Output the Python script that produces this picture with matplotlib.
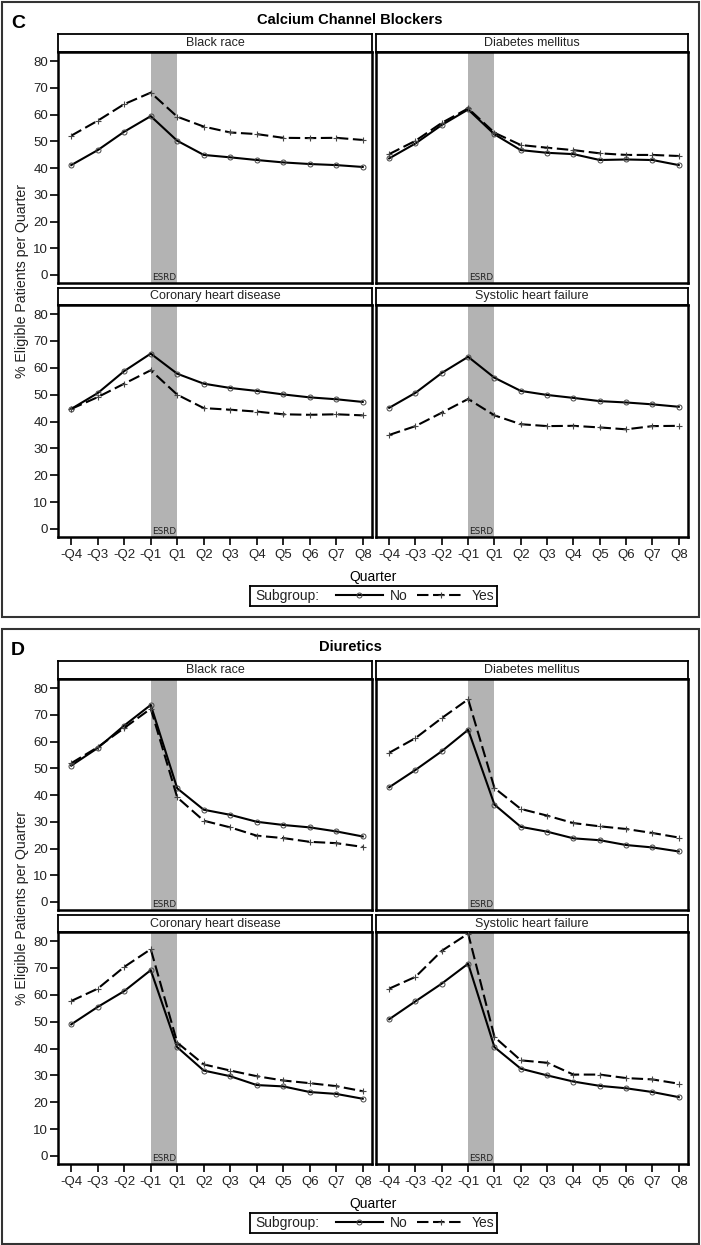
import matplotlib
matplotlib.use("Agg")
import matplotlib.pyplot as plt
from matplotlib.lines import Line2D
from matplotlib.patches import Rectangle

plt.rcParams['font.family'] = ['Liberation Sans', 'DejaVu Sans']

quarters = ['-Q4', '-Q3', '-Q2', '-Q1', 'Q1', 'Q2', 'Q3', 'Q4', 'Q5', 'Q6', 'Q7', 'Q8']
subgroups = ['Black race', 'Diabetes mellitus', 'Coronary heart disease', 'Systolic heart failure']

# Panel C: Calcium Channel Blockers
ccb_no = {
    'Black race':             [41.1, 46.7, 53.6, 59.4, 50.2, 44.9, 44.0, 43.0, 42.1, 41.5, 41.1, 40.4],
    'Diabetes mellitus':      [43.6, 49.2, 56.1, 61.9, 52.6, 46.7, 45.7, 45.2, 43.0, 43.2, 43.0, 41.1],
    'Coronary heart disease': [44.7, 50.6, 58.8, 65.3, 57.8, 54.1, 52.5, 51.4, 50.1, 49.0, 48.3, 47.3],
    'Systolic heart failure': [45.1, 50.7, 58.1, 64.1, 56.3, 51.4, 49.9, 48.8, 47.6, 47.1, 46.4, 45.5],
}
ccb_yes = {
    'Black race':             [52.1, 57.7, 63.9, 68.2, 59.2, 55.5, 53.3, 52.7, 51.3, 51.2, 51.3, 50.5],
    'Diabetes mellitus':      [45.2, 50.2, 56.9, 62.3, 53.2, 48.6, 47.6, 46.7, 45.5, 44.9, 44.9, 44.5],
    'Coronary heart disease': [44.7, 49.1, 54.1, 59.1, 50.0, 45.0, 44.4, 43.7, 42.7, 42.5, 42.7, 42.3],
    'Systolic heart failure': [35.0, 38.3, 43.3, 48.4, 42.3, 39.0, 38.3, 38.4, 37.8, 37.1, 38.3, 38.4],
}
# Panel D: Diuretics
diu_no = {
    'Black race':             [51.0, 57.6, 66.0, 73.7, 42.5, 34.5, 32.6, 30.0, 28.8, 27.9, 26.4, 24.5],
    'Diabetes mellitus':      [42.9, 49.4, 56.4, 64.4, 36.4, 28.1, 26.3, 23.8, 23.1, 21.3, 20.4, 18.9],
    'Coronary heart disease': [49.0, 55.5, 61.4, 69.2, 40.5, 31.8, 29.7, 26.4, 25.9, 23.8, 23.1, 21.3],
    'Systolic heart failure': [50.9, 57.6, 64.2, 71.6, 40.5, 32.5, 30.0, 27.7, 26.1, 25.2, 23.8, 21.9],
}
diu_yes = {
    'Black race':             [51.9, 57.9, 65.1, 72.3, 39.1, 30.4, 27.9, 24.8, 23.9, 22.5, 22.0, 20.6],
    'Diabetes mellitus':      [55.8, 61.3, 68.8, 75.8, 42.6, 34.8, 32.3, 29.5, 28.3, 27.3, 25.8, 24.1],
    'Coronary heart disease': [57.7, 62.3, 70.4, 77.0, 42.2, 34.1, 31.8, 29.7, 28.1, 27.1, 26.0, 24.1],
    'Systolic heart failure': [62.3, 66.7, 76.4, 82.8, 44.3, 35.6, 34.7, 30.3, 30.3, 29.0, 28.5, 26.9],
}
panels = [('C', 'Calcium Channel Blockers', ccb_no, ccb_yes),
          ('D', 'Diuretics', diu_no, diu_yes)]
yticks = [0, 10, 20, 30, 40, 50, 60, 70, 80]

W, H = 701, 1245
fig = plt.figure(figsize=(W / 100, H / 100), dpi=100)

def add_ax(x0, y0, x1, y1):
    return fig.add_axes([x0 / W, 1 - y1 / H, (x1 - x0) / W, (y1 - y0) / H])

BAND = '#b3b3b3'
TXT = '#222222'
cols = [(58, 372), (376, 688)]
rows = [((34, 52), (52, 283)), ((288, 305), (305, 537))]
xs = list(range(len(quarters)))

for pi, (letter, title, d_no, d_yes) in enumerate(panels):
    o = 627 * pi
    fig.patches.append(Rectangle((2 / W, 1 - (617 + o) / H), 697 / W, 615 / H,
                                 transform=fig.transFigure, fill=False,
                                 edgecolor='#333333', lw=1.5))
    fig.text(11 / W, 1 - (23 + o) / H, letter, fontsize=14, fontweight='bold',
             va='center', ha='left')
    fig.text(350 / W, 1 - (20 + o) / H, title, fontsize=10.6, fontweight='bold',
             va='center', ha='center')
    for k, sg in enumerate(subgroups):
        r, c = divmod(k, 2)
        (sy0, sy1), (py0, py1) = rows[r]
        x0, x1 = cols[c]
        sax = add_ax(x0, sy0 + o, x1, sy1 + o)
        sax.set_xticks([]); sax.set_yticks([])
        for s in sax.spines.values():
            s.set_linewidth(1.3)
        sax.text(0.5, 0.5, sg, ha='center', va='center', fontsize=9,
                 color=TXT, transform=sax.transAxes)
        ax = add_ax(x0, py0 + o, x1, py1 + o)
        for s in ax.spines.values():
            s.set_linewidth(1.8)
        ax.axvspan(3, 4, color=BAND, lw=0, zorder=0)
        ax.text(3.5, -1.1, 'ESRD', ha='center', va='center', fontsize=6.4,
                family='DejaVu Sans', color=TXT, zorder=1)
        ax.plot(xs, d_no[sg], color='black', lw=1.5, marker='o', ms=3.6,
                mfc='none', mec='#444444', mew=0.7, zorder=3)
        ax.plot(xs, d_yes[sg], color='black', lw=1.5, ls=(0, (5.5, 2.2)),
                marker='+', ms=5, mec='#444444', mew=0.8, zorder=3)
        ax.set_xlim(-0.5, 11.35)
        ax.set_ylim(-3, 83.4)
        ax.set_yticks(yticks)
        ax.set_xticks(xs)
        ax.tick_params(length=5.5, width=1.2, colors='black', labelcolor=TXT,
                       labelsize=9.5, pad=1.5)
        ax.tick_params(axis='x', pad=3)
        if c == 0:
            ax.set_yticklabels([str(v) for v in yticks])
        else:
            ax.tick_params(axis='y', left=False, labelleft=False)
        if r == 1:
            ax.set_xticklabels(quarters)
        else:
            ax.tick_params(axis='x', bottom=False, labelbottom=False)
    fig.text(22 / W, 1 - (281 + o) / H, '% Eligible Patients per Quarter',
             rotation=90, fontsize=10.2, va='center', ha='center', color=TXT)
    fig.text(373 / W, 1 - (577 + o) / H, 'Quarter', fontsize=10,
             va='center', ha='center', color='black')
    lax = add_ax(250, 586 + o, 497, 606 + o)
    lax.set_xticks([]); lax.set_yticks([])
    for s in lax.spines.values():
        s.set_linewidth(1.3)
    lax.text(0.02, 0.5, 'Subgroup:', transform=lax.transAxes, fontsize=10,
             va='center', ha='left', color=TXT)
    handles = [Line2D([], [], color='black', lw=1.5, marker='o', ms=3.6,
                      mfc='none', mec='#444444', mew=0.7),
               Line2D([], [], color='black', lw=1.5, ls=(0, (5.5, 2.2)),
                      marker='+', ms=5, mec='#444444', mew=0.8)]
    lax.legend(handles, ['No', 'Yes'], ncol=2, frameon=False, fontsize=10,
               loc='center right', bbox_to_anchor=(1.0, 0.5),
               handlelength=3.4, handletextpad=0.5, columnspacing=0.7,
               borderaxespad=0.1, borderpad=0.1, labelcolor=TXT)

fig.savefig('out.png', dpi=100)
